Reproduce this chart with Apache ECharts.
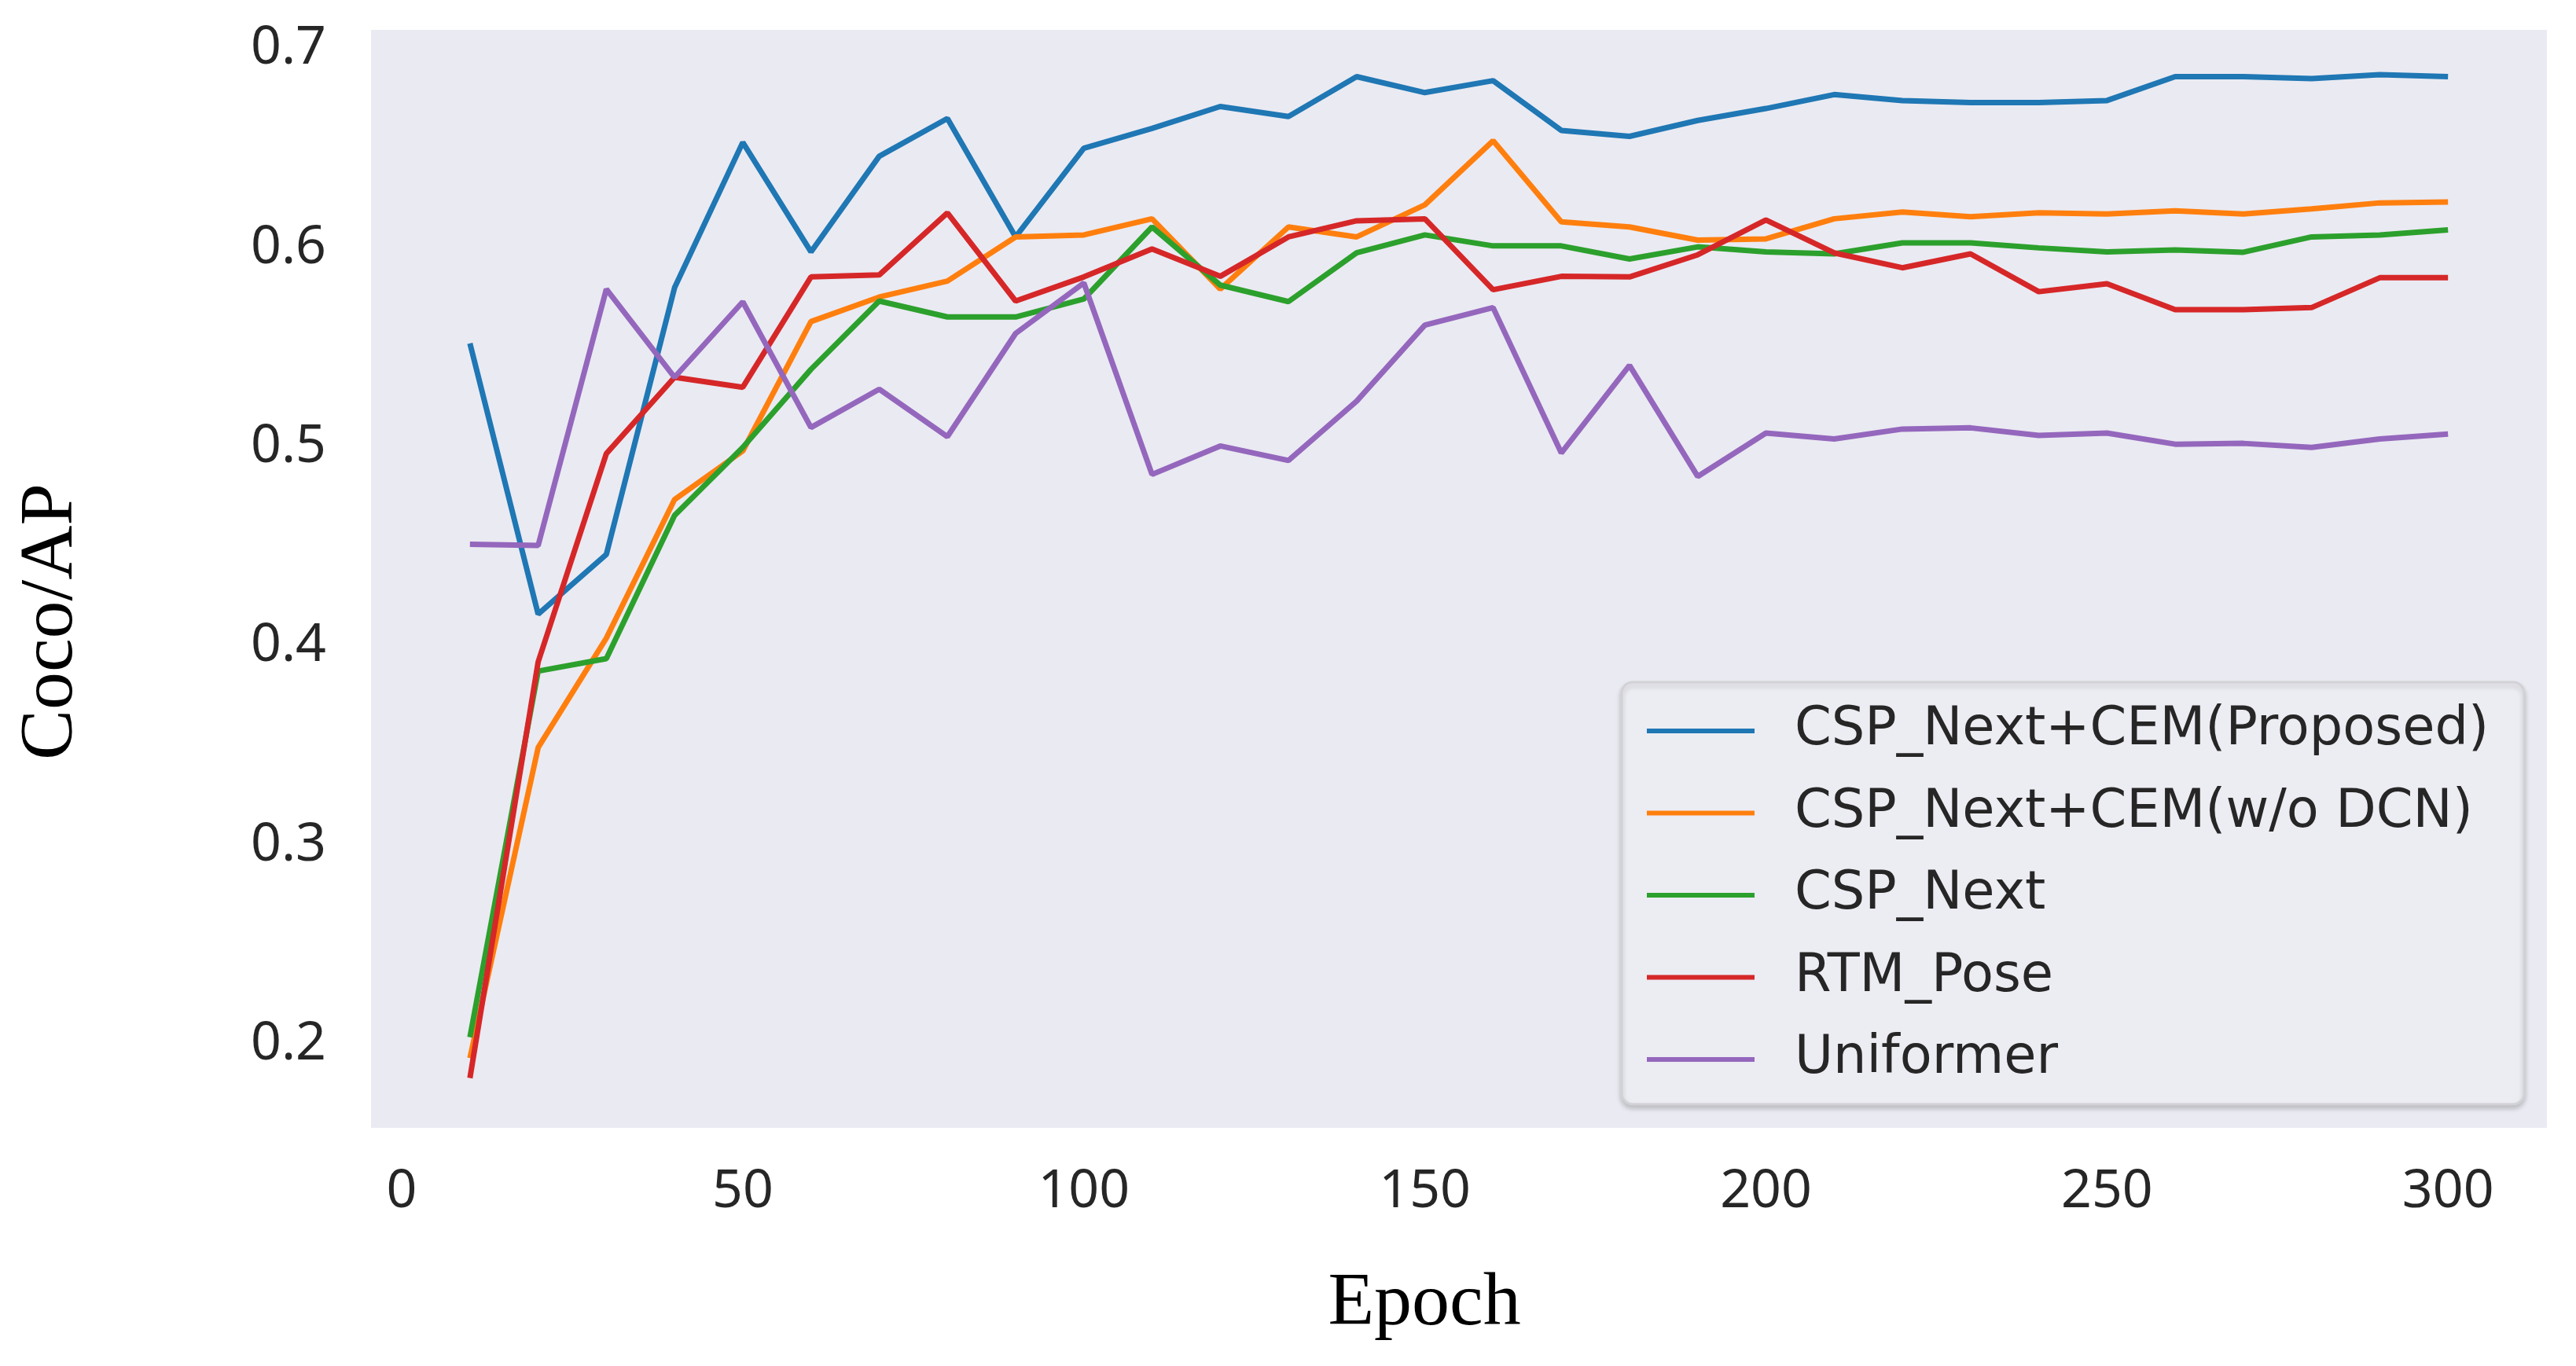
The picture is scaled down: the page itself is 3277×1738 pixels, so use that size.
<!DOCTYPE html>
<html>
<head>
<meta charset="utf-8">
<script src="https://cdn.jsdelivr.net/npm/echarts@6/dist/echarts.min.js"></script>
<style>
html,body{margin:0;padding:0;background:#ffffff;}
#chart{width:3277px;height:1738px;}
</style>
</head>
<body>
<div id="chart"></div>
<script>
const epochs = [10,20,30,40,50,60,70,80,90,100,110,120,130,140,150,160,170,180,190,200,210,220,230,240,250,260,270,280,290,300];

const proposed = [0.552,0.416,0.446,0.580,0.653,0.598,0.646,0.665,0.6055,0.650,0.660,0.671,0.666,0.686,0.678,0.684,0.659,0.656,0.664,0.670,0.677,0.674,0.673,0.673,0.674,0.686,0.686,0.685,0.687,0.686];
const woDCN = [0.193,0.349,0.404,0.4736,0.498,0.563,0.5753,0.5833,0.6055,0.6065,0.6146,0.5793,0.6105,0.6055,0.6216,0.6538,0.6131,0.6105,0.6039,0.6045,0.6146,0.618,0.6156,0.6176,0.617,0.6186,0.617,0.6196,0.6226,0.623];
const cspNext = [0.2035,0.3874,0.3937,0.4656,0.4998,0.539,0.5733,0.5653,0.5653,0.5743,0.6105,0.5813,0.573,0.5975,0.6065,0.601,0.601,0.5944,0.6005,0.598,0.597,0.6025,0.6025,0.600,0.598,0.599,0.5978,0.6055,0.6065,0.609];
const rtmPose = [0.183,0.392,0.4967,0.535,0.530,0.5854,0.5864,0.6176,0.5733,0.5854,0.5995,0.5857,0.6055,0.6136,0.6146,0.579,0.5857,0.5854,0.5965,0.614,0.5975,0.590,0.597,0.578,0.582,0.569,0.569,0.570,0.585,0.585];
const uniformer = [0.4511,0.4505,0.5793,0.535,0.5729,0.5098,0.529,0.5052,0.557,0.5824,0.4862,0.5005,0.4932,0.523,0.5612,0.570,0.497,0.541,0.4852,0.507,0.504,0.509,0.5096,0.5058,0.507,0.5014,0.5018,0.4998,0.504,0.5065];

const seriesNames = ['CSP_Next+CEM(Proposed)','CSP_Next+CEM(w/o DCN)','CSP_Next','RTM_Pose','Uniformer'];
const seriesColors = ['#1f77b4','#ff7f0e','#2ca02c','#d62728','#9467bd'];
const seriesValues = [proposed, woDCN, cspNext, rtmPose, uniformer];

const xTicks = [0,50,100,150,200,250,300];
const yTicks = [0.2,0.3,0.4,0.5,0.6,0.7];
const xTitle = 'Epoch';
const yTitle = 'Coco/AP';

const chart = echarts.init(document.getElementById('chart'), null, {renderer:'canvas', width:3277, height:1738});

const tickFont = {fontFamily:'Noto Sans', fontSize:68, color:'#262626'};

const option = {
  backgroundColor:'#ffffff',
  animation:false,
  grid:{left:472, top:38, right:37, bottom:303, show:true, backgroundColor:'#EAEAF2', borderWidth:0, containLabel:false, outerBoundsMode:'none'},
  xAxis:{
    type:'value', min:-4.5, max:314.5,
    axisLine:{show:false}, axisTick:{show:false}, splitLine:{show:false},
    axisLabel:Object.assign({customValues:xTicks, margin:48, showMinLabel:true, showMaxLabel:true}, tickFont)
  },
  yAxis:{
    type:'value', min:0.158, max:0.7095,
    axisLine:{show:false}, axisTick:{show:false}, splitLine:{show:false},
    axisLabel:Object.assign({customValues:yTicks, margin:57, formatter:v=>v.toFixed(1)}, tickFont)
  },
  legend:{
    orient:'vertical', left:2090, top:891, z:20,
    icon:'rect', itemWidth:137, itemHeight:6, itemGap:36.5,
    itemStyle:{borderWidth:0},
    textStyle:{fontFamily:'DejaVu Sans', fontSize:67, color:'#262626', lineHeight:68, padding:[0,0,0,46]},
    data:seriesNames
  },
  graphic:[
    {type:'rect', z:10, shape:{x:2063, y:868, width:1148, height:537, r:14},
     style:{fill:'#ECECF3', stroke:'#d2d2d6', lineWidth:3, shadowBlur:6, shadowColor:'rgba(0,0,0,0.18)', shadowOffsetY:4}},
    {type:'text', x:1812, y:1660, style:{text:xTitle, font:'96px "Liberation Serif"', fill:'#000', textAlign:'center', textVerticalAlign:'middle'}},
    {type:'text', x:66, y:791, rotation:Math.PI/2, style:{text:yTitle, font:'96px "Liberation Serif"', fill:'#000', textAlign:'center', textVerticalAlign:'middle'}}
  ],
  series: seriesNames.map((name,i)=>({
    name:name, type:'line', symbol:'none', z:2+i,
    color:seriesColors[i],
    lineStyle:{width:7, color:seriesColors[i]},
    data: epochs.map((e,j)=>[e, seriesValues[i][j]])
  }))
};
chart.setOption(option);
</script>
</body>
</html>
